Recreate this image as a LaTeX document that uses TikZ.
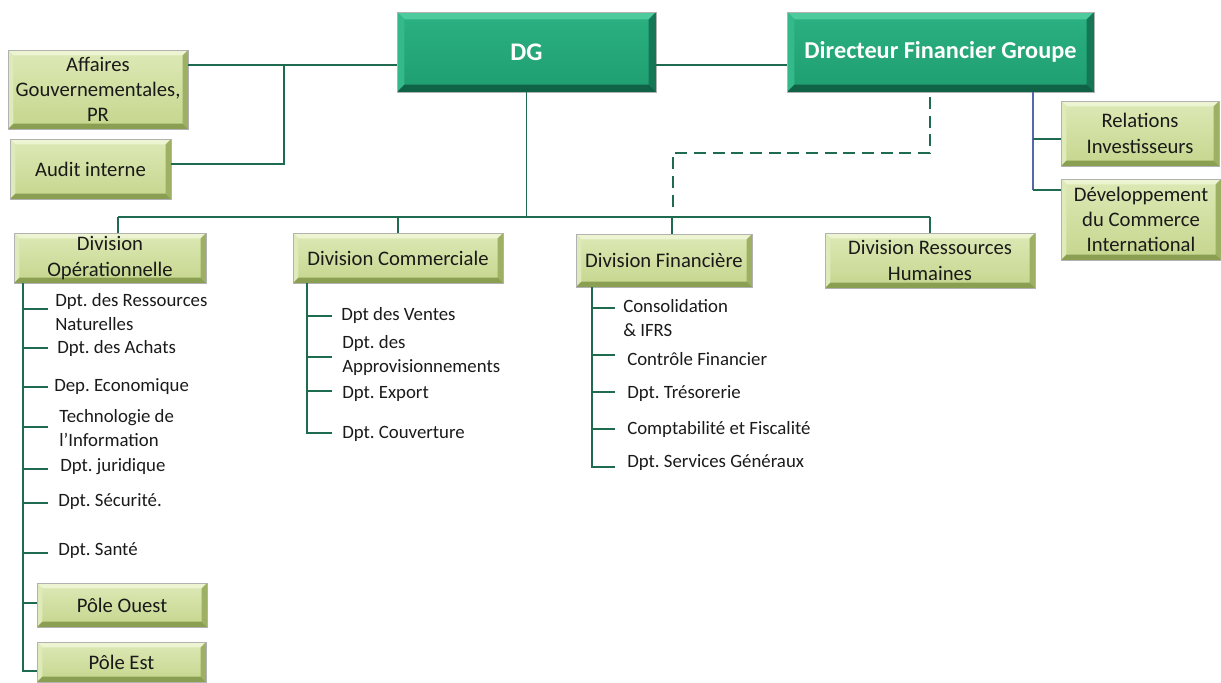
\documentclass[tikz,border=0pt]{standalone}
\usepackage{fontspec}
\setmainfont{Carlito}
\usetikzlibrary{calc}
\frenchspacing

\definecolor{linegreen}{HTML}{1F6B4F}
\definecolor{lineblue}{HTML}{5569A8}
\definecolor{dkTop}{HTML}{2BB182}
\definecolor{dkBot}{HTML}{1F9E70}
\definecolor{dkBevT}{HTML}{4ECB9D}
\definecolor{dkBevL}{HTML}{33B98A}
\definecolor{dkBevR}{HTML}{157755}
\definecolor{dkBevB}{HTML}{106246}
\definecolor{ltTop}{HTML}{DDE9B6}
\definecolor{ltBot}{HTML}{C5D68D}
\definecolor{ltBevT}{HTML}{EDF4D2}
\definecolor{ltBevL}{HTML}{DFEABA}
\definecolor{ltBevR}{HTML}{9DB063}
\definecolor{ltBevB}{HTML}{8B9F53}
\definecolor{txt}{HTML}{1A1A1A}

\tikzset{
  sz/.style 2 args={minimum width=#1*0.75pt, minimum height=#2*0.75pt},
  bevel/.style n args={5}{path picture={
      \coordinate (bnw) at (path picture bounding box.north west);
      \coordinate (bne) at (path picture bounding box.north east);
      \coordinate (bsw) at (path picture bounding box.south west);
      \coordinate (bse) at (path picture bounding box.south east);
      \coordinate (inw) at ([shift={(#5,-#5)}]bnw);
      \coordinate (ine) at ([shift={(-#5,-#5)}]bne);
      \coordinate (isw) at ([shift={(#5,#5)}]bsw);
      \coordinate (ise) at ([shift={(-#5,#5)}]bse);
      \fill[#1] (bnw) -- (bne) -- (ine) -- (inw) -- cycle;
      \fill[#2] (bnw) -- (inw) -- (isw) -- (bsw) -- cycle;
      \fill[#3] (bne) -- (bse) -- (ise) -- (ine) -- cycle;
      \fill[#4] (bsw) -- (isw) -- (ise) -- (bse) -- cycle;
  }},
  headbox/.style={draw=gray!60, line width=0.4pt, inner sep=0pt,
      top color=dkTop, bottom color=dkBot,
      bevel={dkBevT}{dkBevL}{dkBevR}{dkBevB}{5.5pt},
      text=white, font=\bfseries\fontsize{18.2}{22}\selectfont},
  unitbox/.style={draw=gray!60, line width=0.4pt, inner sep=0pt,
      top color=ltTop, bottom color=ltBot,
      bevel={ltBevT}{ltBevL}{ltBevR}{ltBevB}{4pt},
      text=txt, align=center, font=\fontsize{15.5}{19}\selectfont},
  dept/.style={anchor=west, inner sep=0pt, align=left, text=txt,
      font=\fontsize{14.1}{18}\selectfont},
  link/.style={draw=linegreen, line width=1.1pt},
}

\begin{document}
\begin{tikzpicture}[x=0.75pt, y=-0.75pt]
\useasboundingbox (0,0) rectangle (1221,682);

% --- top level ---
\node[headbox, sz={259}{80}, font=\bfseries\fontsize{19}{22}\selectfont] (dg) at (526.5,52) {DG};
\node[headbox, sz={307}{80}] (dfg) at (940.5,52) {Directeur Financier Groupe};

\node[unitbox, sz={180}{79}] (aff) at (98,89.5) {Affaires\\Gouvernementales,\\PR};
\node[unitbox, sz={161}{60}] (audit) at (90.5,169) {Audit interne};

\node[unitbox, sz={158}{65}] (ri) at (1140,133.5) {Relations\\Investisseurs};
\node[unitbox, sz={160}{81}] (dev) at (1141,219.5) {Développement\\du Commerce\\International};

% --- divisions ---
\node[unitbox, sz={192}{50}] (divop) at (110,258) {Division\\Opérationnelle};
\node[unitbox, sz={210}{50}] (divcom) at (398,258) {Division Commerciale};
\node[unitbox, sz={176}{53}] (divfin) at (664,260.5) {Division Financière};
\node[unitbox, sz={210}{55}] (divrh) at (930,260.5) {Division Ressources\\Humaines};

% --- staff links around DG ---
\coordinate (jaff) at (284,65);
\draw[link] (aff.east |- jaff) -- (dg.west |- jaff);
\draw[link] (jaff) -- (284,164) -- (audit.east |- 0,164);
\draw[link] (dg.east |- jaff) -- (dfg.west |- jaff);

% --- DG to divisions ---
\coordinate (bus) at (526.5,217);
\draw[link] (dg.south) -- (bus);
\draw[link] (118,217) -- (930,217);
\draw[link] (118,217) -- (118,233);
\draw[link] (divcom.north |- bus) -- (divcom.north);
\draw[link] (672,217) -- (672,234);
\draw[link] (divrh.north |- bus) -- (divrh.north);

% --- functional link CFO -> finance ---
\draw[draw=linegreen, line width=1.1pt, dash pattern=on 9pt off 5pt]
  (930,97) -- (930,153) -- (673,153) -- (673,212);

% --- CFO staff ---
\coordinate (cfo) at (1033,92);
\draw[draw=lineblue, line width=1.1pt] (cfo) -- (1033,190);
\draw[link] (1033,139) -- (ri.west |- 0,139);
\draw[link] (1033,190) -- (dev.west |- 0,190);

% --- Division Opérationnelle ---
\node[dept] (op1) at (55,312) {Dpt. des Ressources\\Naturelles};
\node[dept] (op2) at (57,348) {Dpt. des Achats};
\node[dept] (op3) at (54,387) {Dep. Economique};
\node[dept] (op4) at (59,428) {Technologie de\\l’Information};
\node[dept] (op5) at (60,467) {Dpt. juridique};
\node[dept] (op6) at (58,502) {Dpt. Sécurité.};
\node[dept] (op7) at (58,551) {Dpt. Santé};
\node[unitbox, sz={170}{44}] (pouest) at (122,605) {Pôle Ouest};
\node[unitbox, sz={169}{40}] (pest) at (121.5,662) {Pôle Est};

\draw[link] (23,283) -- (23,671) -- (pest.west |- 0,671);
\foreach \yy in {309,348,387,427,469,503,553}
  \draw[link] (23,\yy) -- (48,\yy);
\draw[link] (23,603) -- (pouest.west |- 0,603);

% --- Division Commerciale ---
\node[dept] (co1) at (341,315) {Dpt des Ventes};
\node[dept] (co2) at (342,355) {Dpt. des\\Approvisionnements};
\node[dept] (co3) at (342,394) {Dpt. Export};
\node[dept] (co4) at (342,434) {Dpt. Couverture};
\draw[link] (307,283) -- (307,433) -- (332,433);
\foreach \yy in {316,357,391}
  \draw[link] (307,\yy) -- (332,\yy);

% --- Division Financière ---
\node[dept] (fi1) at (623,318) {Consolidation\\\& IFRS};
\node[dept] (fi2) at (627,359) {Contrôle Financier};
\node[dept] (fi3) at (627,394) {Dpt. Trésorerie};
\node[dept] (fi4) at (627,429) {Comptabilité et Fiscalité};
\node[dept] (fi5) at (627,463) {Dpt. Services Généraux};
\draw[link] (592,287) -- (592,467) -- (615,467);
\foreach \yy in {308,355,392,429}
  \draw[link] (592,\yy) -- (615,\yy);
\end{tikzpicture}
\end{document}
